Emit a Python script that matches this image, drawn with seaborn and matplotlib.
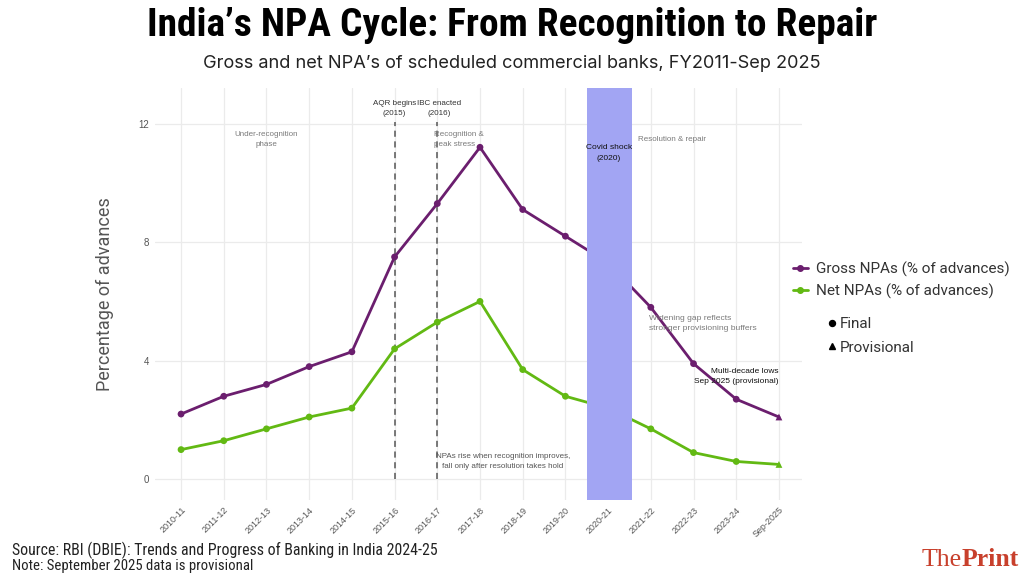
import matplotlib
matplotlib.use("Agg")
import matplotlib.pyplot as plt
from matplotlib.lines import Line2D
from matplotlib import font_manager as fm
import seaborn as sns
import pandas as pd
import numpy as np

years = ["2010-11", "2011-12", "2012-13", "2013-14", "2014-15", "2015-16", "2016-17",
         "2017-18", "2018-19", "2019-20", "2020-21", "2021-22", "2022-23", "2023-24", "Sep-2025"]
gross_npa = [2.2, 2.8, 3.2, 3.8, 4.3, 7.5, 9.3, 11.2, 9.1, 8.2, 7.3, 5.8, 3.9, 2.7, 2.1]
net_npa = [1.0, 1.3, 1.7, 2.1, 2.4, 4.4, 5.3, 6.0, 3.7, 2.8, 2.4, 1.7, 0.9, 0.6, 0.5]
status = ["Final"] * 14 + ["Provisional"]
y_ticks = [0, 4, 8, 12]

GROSS_C = "#6b1e6e"
NET_C = "#62b913"
BAND_C = "#a2a5f3"

sns.set_theme(style="whitegrid")
plt.rcParams["font.family"] = ["Liberation Sans", "DejaVu Sans"]

# pick a condensed family if one is installed
names = {f.name for f in fm.fontManager.ttflist}
condensed_fams = [n for n in ["Roboto Condensed", "Liberation Sans Narrow", "Open Sans Condensed",
                              "DejaVu Sans Condensed", "Noto Sans Condensed", "Arial Narrow"] if n in names]
has_dv_cond = any(f.name == "DejaVu Sans" and str(f.stretch) in ("condensed", "semi-condensed")
                  for f in fm.fontManager.ttflist)
if condensed_fams:
    COND = [condensed_fams[0], "DejaVu Sans"]
    COND_STRETCH = "normal"
elif has_dv_cond:
    COND = ["DejaVu Sans"]
    COND_STRETCH = "condensed"
else:
    COND = ["Roboto", "DejaVu Sans"]
    COND_STRETCH = "normal"

x = np.arange(len(years))
df = pd.DataFrame({"x": np.concatenate([x, x]),
                   "value": gross_npa + net_npa,
                   "series": ["Gross NPAs (% of advances)"] * len(x) + ["Net NPAs (% of advances)"] * len(x),
                   "status": status + status})

fig = plt.figure(figsize=(10.24, 5.76), dpi=100)
ax = fig.add_axes([155 / 1024, 1 - 500 / 576, (802 - 155) / 1024, (500 - 88) / 576])

palette = {"Gross NPAs (% of advances)": GROSS_C, "Net NPAs (% of advances)": NET_C}
sns.lineplot(data=df, x="x", y="value", hue="series", palette=palette, linewidth=2.0,
             ax=ax, legend=False, zorder=3)
sns.scatterplot(data=df, x="x", y="value", hue="series", style="status",
                markers={"Final": "o", "Provisional": "^"}, palette=palette, s=24,
                edgecolor="none", ax=ax, legend=False, zorder=4)

# Covid band (drawn over the lines)
ax.axvspan(9.5, 10.55, color=BAND_C, zorder=5, lw=0)
# Policy lines
ax.vlines([5, 6], 0, 12.05, colors="#555555", linestyles=(0, (4, 3)), lw=1.1, zorder=2)

ax.set_xlim(-0.61, 14.54)
ax.set_ylim(-0.7, 13.2)
ax.set_yticks(y_ticks)
ax.set_yticklabels([str(v) for v in y_ticks])
ax.set_xticks(x)
ax.set_xticklabels(years, rotation=45, ha="right", rotation_mode="anchor")
ax.tick_params(axis="x", labelsize=6.5, colors="#555555", pad=4, length=0)
ax.tick_params(axis="y", labelsize=7, colors="#555555", pad=4, length=0)
ax.set_xlabel("")
ax.set_ylabel("Percentage of advances", fontsize=13, color="#555555",
              family=["Roboto", "DejaVu Sans"])
ax.yaxis.set_label_coords(-0.063, 0.5)
ax.grid(True, color="#ebebeb", lw=0.9)
ax.set_facecolor("white")
for s in ax.spines.values():
    s.set_visible(False)

# Annotations
ann_gray = "#7a7a7a"
FS = 5.8
ax.text(2, 11.45, "Under-recognition\nphase", ha="center", va="center", fontsize=FS,
        color=ann_gray, linespacing=1.6)
ax.text(5, 12.5, "AQR begins\n(2015)", ha="center", va="center", fontsize=FS,
        color="#333333", linespacing=1.6)
ax.text(6.05, 12.5, "IBC enacted\n(2016)", ha="center", va="center", fontsize=FS,
        color="#333333", linespacing=1.6)
ax.text(5.93, 11.45, "Recognition &\npeak stress", ha="left", va="center", fontsize=FS,
        color=ann_gray, linespacing=1.6)
ax.text(10.02, 11.0, "Covid shock\n(2020)", ha="center", va="center", fontsize=6.0,
        color="#111111", linespacing=1.8, zorder=6)
ax.text(10.7, 11.45, "Resolution & repair", ha="left", va="center", fontsize=FS,
        color=ann_gray)
ax.text(10.95, 5.25, "Widening gap reflects\nstronger provisioning buffers", ha="left",
        va="center", fontsize=6.1, color=ann_gray, linespacing=1.6)
ax.text(14.0, 3.48, "Multi-decade lows\nSep 2025 (provisional)", ha="right", va="center",
        fontsize=6.0, color="#111111", linespacing=1.6)
ax.text(5.96, 0.6, "NPAs rise when recognition improves,\nfall only after resolution takes hold",
        ha="left", va="center", multialignment="center", fontsize=FS, color="#555555",
        linespacing=1.6)

# Legend
handles = [Line2D([0], [0], color=GROSS_C, lw=2.0, marker="o", ms=4),
           Line2D([0], [0], color=NET_C, lw=2.0, marker="o", ms=4)]
fig.legend(handles, list(palette.keys()), loc="center left",
           bbox_to_anchor=(779 / 1024, 1 - 280 / 576), frameon=False,
           handlelength=1.0, handletextpad=0.5, labelspacing=0.45,
           prop={"family": ["Roboto", "DejaVu Sans"], "size": 11}, labelcolor="#333333")
shape_handles = [Line2D([0], [0], color="black", lw=0, marker="o", ms=4.3),
                 Line2D([0], [0], color="black", lw=0, marker="^", ms=4.3)]
fig.legend(shape_handles, ["Final", "Provisional"], loc="center left",
           bbox_to_anchor=(814 / 1024, 1 - 336 / 576), frameon=False,
           handlelength=0.5, handletextpad=0.3, labelspacing=0.6,
           prop={"family": ["Roboto", "DejaVu Sans"], "size": 11}, labelcolor="#333333")

# Titles
title = fig.text(0.5, 1 - 26 / 576, "India\u2019s NPA Cycle: From Recognition to Repair", ha="center",
                 va="center", fontsize=28, fontweight="bold", color="black",
                 family=COND, fontstretch=COND_STRETCH)
fig.text(0.5, 1 - 64 / 576, "Gross and net NPA\u2019s of scheduled commercial banks, FY2011-Sep 2025",
         ha="center", va="center", fontsize=13.1, color="#222222",
         family=["Inter", "DejaVu Sans"])

# Footer
src = fig.text(12 / 1024, 1 - 550 / 576, "Source: RBI (DBIE): Trends and Progress of Banking in India 2024-25",
               ha="left", va="center", fontsize=10, color="#222222",
               family=COND, fontstretch=COND_STRETCH)
note = fig.text(12 / 1024, 1 - 566 / 576, "Note: September 2025 data is provisional",
                ha="left", va="center", fontsize=9, color="#222222",
                family=COND, fontstretch=COND_STRETCH)

# scale text sizes so widths match the reference
renderer = fig.canvas.get_renderer()
for t, target in ((title, 730), (src, 425), (note, 240)):
    w = t.get_window_extent(renderer).width
    t.set_fontsize(t.get_fontsize() * target / w)

pr = fig.text(1019 / 1024, 1 - 560 / 576, "Print", ha="right", va="center", fontsize=18.5,
              fontweight="bold", color="#c8402c", family=["Liberation Serif", "DejaVu Serif"])
bb = pr.get_window_extent(renderer)
fig.text(bb.x0 / 1024, 1 - 560 / 576, "The", ha="right", va="center", fontsize=18.5,
         color="#c8402c", family=["Liberation Serif", "DejaVu Serif"])

fig.savefig("out.png", dpi=100, facecolor="white")
